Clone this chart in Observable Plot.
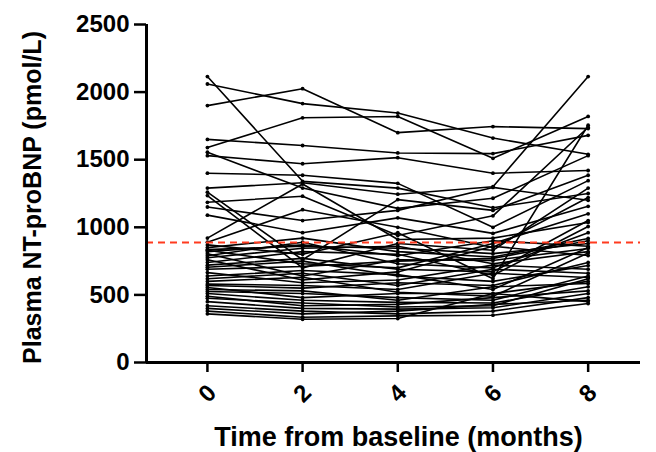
<!DOCTYPE html>
<html><head><meta charset="utf-8">
<script src="https://cdn.jsdelivr.net/npm/d3@7"></script>
<script src="https://cdn.jsdelivr.net/npm/@observablehq/plot@0.6"></script>
<style>body{margin:0;background:#fff} svg{font-family:"Liberation Sans",Arial,sans-serif}</style>
</head><body><div id="chart"></div>
<script>
const months = [0, 2, 4, 6, 8];
const t0 = [2115,2060,1900,1650,1590,1555,1530,1400,1290,1260,1235,1185,1150,1090,920,890,870,850,835,830,820,805,790,775,760,740,720,705,690,665,640,620,600,580,570,555,540,525,510,490,475,450,420,400,380,360];
const t2 = [1340,1915,2025,1605,1810,1290,1470,1385,1330,760,700,1230,1050,960,1320,1130,800,920,860,730,870,640,890,845,610,820,770,750,710,590,680,660,630,570,550,480,530,510,460,420,440,400,380,360,335,320];
const t4 = [1290,1845,1700,1550,1820,1140,1515,1325,1245,1205,880,940,1125,1070,910,1000,960,820,845,700,790,760,730,860,670,800,690,640,750,610,650,570,520,540,590,510,460,480,445,430,410,395,360,380,345,325];
const t6 = [1145,1660,1745,1545,1510,1215,1400,1000,1300,1125,830,1085,1295,955,920,850,620,780,805,880,900,755,700,730,860,645,670,600,770,720,540,690,490,660,570,510,560,460,440,480,420,405,380,430,350,510];
const t8 = [1250,1540,1730,1680,1820,1530,1420,1345,2115,1385,1290,1740,1200,1155,1036,1220,1755,917,880,1100,860,843,960,820,791,1006,1050,717,900,690,850,660,810,629,740,600,584,640,560,530,620,510,480,460,436,450];
const threshold = 888;
const yTicks = [0, 500, 1000, 1500, 2000, 2500];
const yLabel = "Plasma NT-proBNP (pmol/L)";
const xLabel = "Time from baseline (months)";

const series = [t0, t2, t4, t6, t8];
const data = [];
for (let s = 0; s < t0.length; s++) months.forEach((m, i) => data.push({subject: s, month: m, value: series[i][s]}));

const font = "Liberation Sans, Arial, sans-serif";
const chart = Plot.plot({
  width: 656, height: 452,
  marginLeft: 146, marginRight: 16, marginTop: 24, marginBottom: 90,
  x: {domain: [-1.28, 9.1], axis: null},
  y: {domain: [0, 2500], axis: null},
  style: {fontFamily: font, color: "#000", background: "#fff", overflow: "visible"},
  marks: [
    Plot.line(data, {x: "month", y: "value", z: "subject", stroke: "#000", strokeWidth: 1.6}),
    Plot.dot(data, {x: "month", y: "value", r: 1.9, fill: "#000"}),
    Plot.ruleY([threshold], {stroke: "#ff3b1f", strokeWidth: 2, strokeDasharray: "7,5"}),
    Plot.ruleY([0], {stroke: "#000", strokeWidth: 3}),
    Plot.ruleX([-1.28], {stroke: "#000", strokeWidth: 3}),
    Plot.axisY({ticks: yTicks, tickSize: 12, tickPadding: 5, strokeWidth: 2.5, fontSize: 24, fontWeight: "bold", tickFormat: d => String(d), label: null}),
    Plot.axisX({ticks: months, tickSize: 10, strokeWidth: 2.5, tickFormat: () => "", label: null}),
    Plot.text(months, {x: d => d, frameAnchor: "bottom", dy: 31, rotate: -45, text: d => String(d), fontSize: 24, fontWeight: "bold", textAnchor: "middle", lineAnchor: "middle"}),
    Plot.text([yLabel], {frameAnchor: "left", dx: -114, dy: 4, rotate: -90, text: d => d, fontSize: 25, fontWeight: "bold", textAnchor: "middle", lineAnchor: "middle"}),
    Plot.text([xLabel], {frameAnchor: "bottom", dx: 5, dy: 75, text: d => d, fontSize: 27, fontWeight: "bold", textAnchor: "middle", lineAnchor: "middle"})
  ]
});
document.getElementById("chart").append(chart);
</script>
</body></html>
